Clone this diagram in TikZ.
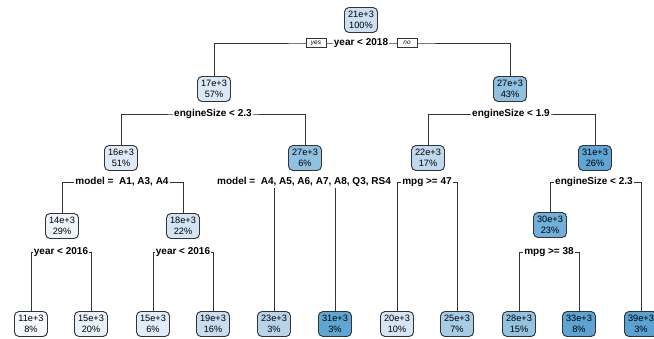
\documentclass[tikz,border=0pt]{standalone}
\usepackage{fontspec}
\setmainfont{Liberation Sans}
\definecolor{c11}{HTML}{F6FAFE}
\definecolor{c14}{HTML}{EDF4FB}
\definecolor{c15}{HTML}{E8F1FA}
\definecolor{c15b}{HTML}{E0ECF8}
\definecolor{c16}{HTML}{DEEBF7}
\definecolor{c17}{HTML}{DAE8F6}
\definecolor{c18}{HTML}{D3E4F4}
\definecolor{c19}{HTML}{C8DDF0}
\definecolor{c20}{HTML}{D4E5F4}
\definecolor{c21}{HTML}{CCE0F2}
\definecolor{c22}{HTML}{C0D9EE}
\definecolor{c23}{HTML}{B8D4EB}
\definecolor{c25}{HTML}{A6CCE6}
\definecolor{c27}{HTML}{90C1E0}
\definecolor{c28}{HTML}{92C3E1}
\definecolor{c30}{HTML}{71B0DA}
\definecolor{c31}{HTML}{60A6D5}
\definecolor{c33}{HTML}{5DA4D4}
\definecolor{c39}{HTML}{5AA2D3}
\definecolor{ln}{HTML}{333333}
\begin{document}
\begin{tikzpicture}[x=1pt,y=-1pt,
  nd/.style={draw=ln, line width=0.9pt, rounded corners=4.5pt, minimum width=33pt, minimum height=25pt, inner sep=1pt, align=center, font=\fontsize{9.2}{11}\selectfont},
  lbl/.style={fill=white, inner sep=1.2pt, font=\bfseries\fontsize{10}{11}\selectfont},
  yn/.style={draw=ln, fill=white, line width=0.5pt, font=\itshape\fontsize{6.5}{7}\selectfont, inner sep=1.5pt, minimum height=9pt, minimum width=20pt},
  edge/.style={draw=ln, line width=0.8pt}]
\useasboundingbox (0,0) rectangle (654,338);
% nodes
\node[nd, fill=c21] (r) at (361,20) {21e+3\\100\%};
\node[nd, fill=c17] (n17) at (214,89) {17e+3\\57\%};
\node[nd, fill=c27] (n27) at (510,89) {27e+3\\43\%};
\node[nd, fill=c16] (n16) at (121,158) {16e+3\\51\%};
\node[nd, fill=c27] (n27s) at (305,158) {27e+3\\6\%};
\node[nd, fill=c22] (n22) at (428,158) {22e+3\\17\%};
\node[nd, fill=c31] (n31) at (595,158) {31e+3\\26\%};
\node[nd, fill=c14] (n14) at (62,226) {14e+3\\29\%};
\node[nd, fill=c18] (n18) at (183,226) {18e+3\\22\%};
\node[nd, fill=c30] (n30) at (550,225) {30e+3\\23\%};
\node[nd, fill=c11] (l1) at (31,324) {11e+3\\8\%};
\node[nd, fill=c15] (l2) at (91,324) {15e+3\\20\%};
\node[nd, fill=c15b] (l3) at (153,324) {15e+3\\6\%};
\node[nd, fill=c19] (l4) at (213,324) {19e+3\\16\%};
\node[nd, fill=c23] (l5) at (274,324) {23e+3\\3\%};
\node[nd, fill=c31] (l6) at (335,324) {31e+3\\3\%};
\node[nd, fill=c20] (l7) at (397,324) {20e+3\\10\%};
\node[nd, fill=c25] (l8) at (457,324) {25e+3\\7\%};
\node[nd, fill=c28] (l9) at (519,324) {28e+3\\15\%};
\node[nd, fill=c33] (l10) at (579,324) {33e+3\\8\%};
\node[nd, fill=c39] (l11) at (641,324) {39e+3\\3\%};
% split coordinates
\coordinate (s0) at (361,43);
\coordinate (s1) at (213,114);
\coordinate (s2) at (511,114);
\coordinate (s3) at (122,182);
\coordinate (s4) at (304,182);
\coordinate (s5) at (427,182);
\coordinate (s6) at (594,182);
\coordinate (s7) at (61,252);
\coordinate (s8) at (183,252);
\coordinate (s9) at (549,252);
% connectors
\draw[edge] (n17.north) |- (s0) -| (n27.north);
\draw[edge] (n16.north) |- (s1) -| (n27s.north);
\draw[edge] (n22.north) |- (s2) -| (n31.north);
\draw[edge] (n14.north) |- (s3) -| (n18.north);
\draw[edge] (l5.north) |- (s4) -| (l6.north);
\draw[edge] (l7.north) |- (s5) -| (l8.north);
\draw[edge] (n30.north) |- (s6) -| (l11.north);
\draw[edge] (l1.north) |- (s7) -| (l2.north);
\draw[edge] (l3.north) |- (s8) -| (l4.north);
\draw[edge] (l9.north) |- (s9) -| (l10.north);
% labels
\node[lbl] (t0) at (s0) {year < 2018};
\node[yn] (yes) at (316,43) {yes};
\node[yn] (no) at (407,43) {no};
\node[lbl] (t1) at (s1) {engineSize < 2.3};
\node[lbl] (t2) at (s2) {engineSize < 1.9};
\node[lbl] (t3) at (s3) {model =\ \ A1, A3, A4};
\node[lbl] (t4) at (s4) {model =\ \ A4, A5, A6, A7, A8, Q3, RS4};
\node[lbl] (t5) at (s5) {mpg >= 47};
\node[lbl] (t6) at (s6) {engineSize < 2.3};
\node[lbl] (t7) at (s7) {year < 2016};
\node[lbl] (t8) at (s8) {year < 2016};
\node[lbl] (t9) at (s9) {mpg >= 38};
\end{tikzpicture}
\end{document}
